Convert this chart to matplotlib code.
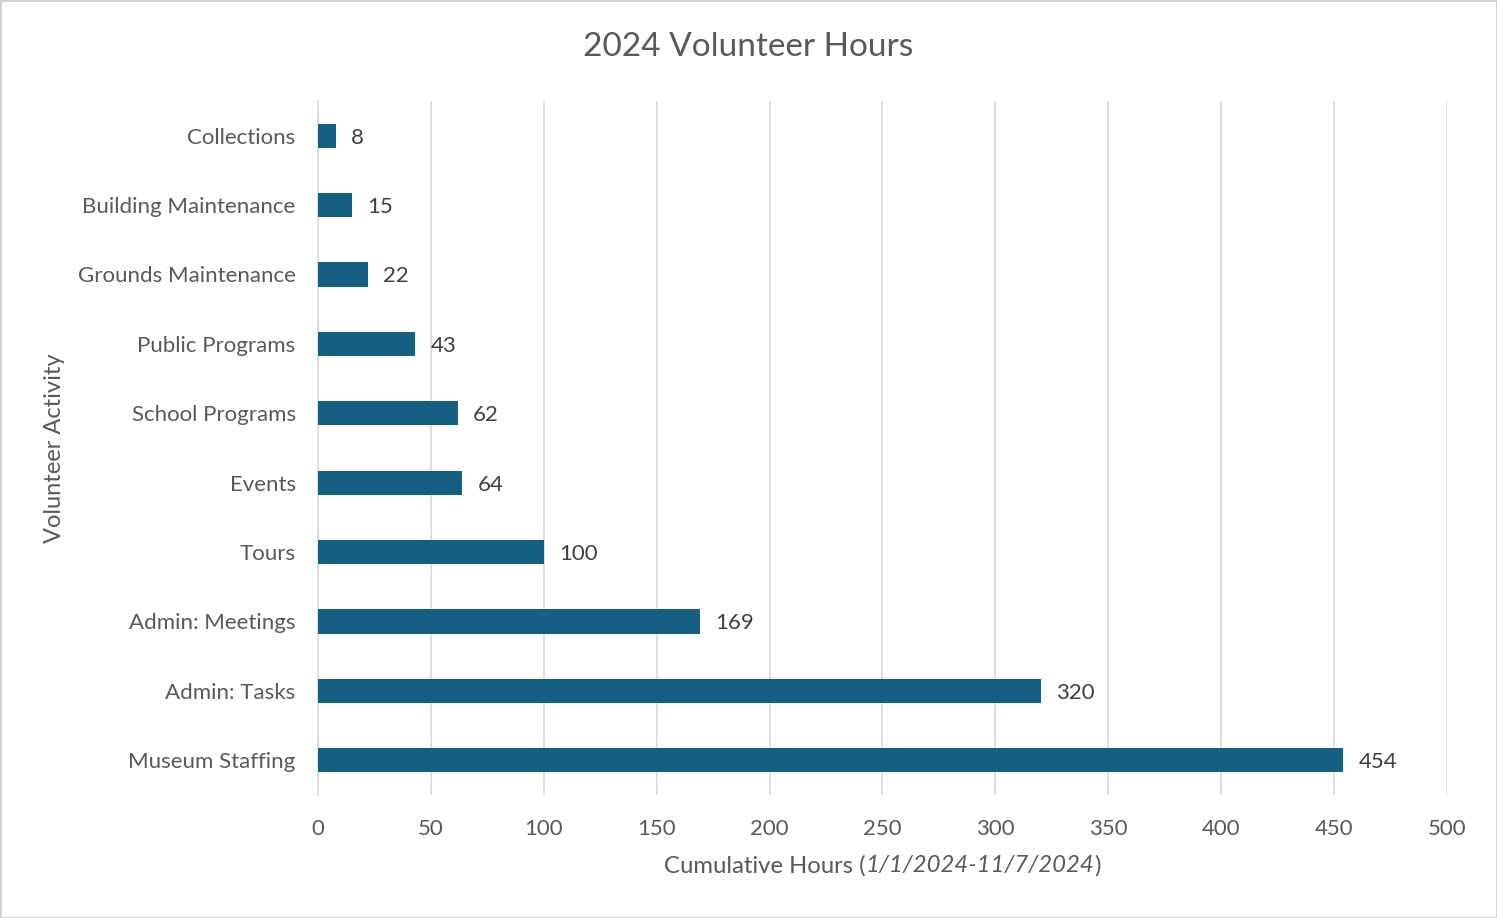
import matplotlib.pyplot as plt
from matplotlib.patches import Rectangle

plt.rcParams['font.family'] = ['Lato', 'DejaVu Sans']

activities = ['Collections', 'Building Maintenance', 'Grounds Maintenance',
              'Public Programs', 'School Programs', 'Events', 'Tours',
              'Admin: Meetings', 'Admin: Tasks', 'Museum Staffing']
hours = [8, 15, 22, 43, 62, 64, 100, 169, 320, 454]
x_ticks = [0, 50, 100, 150, 200, 250, 300, 350, 400, 450, 500]

bar_color = '#156082'
text_color = '#595959'
grid_color = '#d9d9d9'

fig = plt.figure(figsize=(14.97, 9.18), dpi=100)
ax = fig.add_axes([0.2124, 0.134, 0.7542, 0.756])

ypos = list(range(len(activities)))
ax.barh(ypos, hours, height=0.35, color=bar_color, zorder=3)
ax.set_ylim(len(activities) - 0.5, -0.5)
ax.set_xlim(0, 500)
ax.set_yticks(ypos)
ax.set_yticklabels(activities)
ax.set_xticks(x_ticks)

for y, v in zip(ypos, hours):
    ax.annotate(str(v), (v, y), xytext=(11, 0), textcoords='offset points',
                va='center_baseline', ha='left', fontsize=16, color='#404040')

for s in ['top', 'right', 'bottom']:
    ax.spines[s].set_visible(False)
ax.spines['left'].set_color(grid_color)
ax.spines['left'].set_linewidth(1.2)
ax.grid(axis='x', color=grid_color, linewidth=1.2, zorder=0)
ax.tick_params(length=0, labelsize=16, labelcolor=text_color)
ax.tick_params(axis='y', pad=16)
ax.tick_params(axis='x', pad=17)

ax.set_ylabel('Volunteer Activity', fontsize=17, color=text_color, labelpad=9)

# x label with italic date range
lab = fig.text(0.5, 0.057, 'Cumulative Hours (', fontsize=17.2, color=text_color,
               ha='left', va='center')
fig.canvas.draw()
t2 = ax.annotate('1/1/2024-11/7/2024', xy=(1, 0), xycoords=lab, va='bottom',
                 ha='left', fontsize=17.2, color=text_color, style='italic')
t3 = ax.annotate(')', xy=(1, 0), xycoords=t2, va='bottom', ha='left',
                 fontsize=17.2, color=text_color)
fig.canvas.draw()
r = fig.canvas.get_renderer()
w = (lab.get_window_extent(r).width + t2.get_window_extent(r).width +
     t3.get_window_extent(r).width)
cx = (318 + 1447) / 2
lab.set_x((cx - w / 2) / fig.bbox.width)

fig.text(0.5, 0.949, '2024 Volunteer Hours', fontsize=24, color=text_color,
         ha='center', va='center')

fig.patches.append(Rectangle((0, 0), 1, 1, transform=fig.transFigure,
                             fill=False, edgecolor='#d0d0d0', linewidth=2))

fig.savefig('out.png', dpi=100)
